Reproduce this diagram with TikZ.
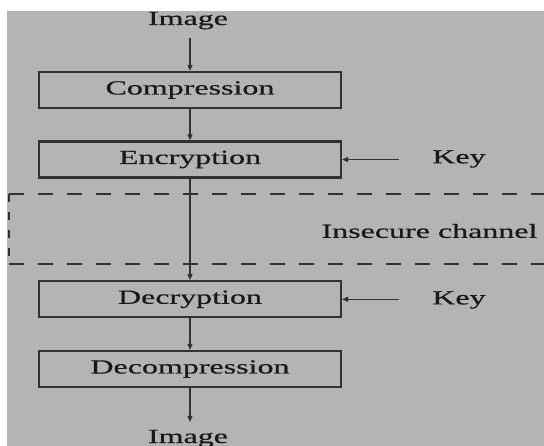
\documentclass[tikz,border=0pt]{standalone}
\usepackage{fontspec}
\setmainfont{Liberation Serif}
\newfontfamily\heavyserif{Liberation Serif}[FakeBold=0.5]
\usetikzlibrary{arrows.meta}
\definecolor{bgray}{RGB}{180,180,180}
\definecolor{lineg}{RGB}{50,50,50}
\definecolor{txtg}{RGB}{25,25,25}
\newcommand{\wtxt}[1]{\scalebox{1.6}[1]{#1}}
\tikzset{
  blockbox/.style={draw=lineg, line width=2.2pt, minimum width=302pt, minimum height=36pt, inner sep=0pt, text=txtg, font=\heavyserif\fontsize{20}{24}\selectfont},
  lbl/.style={inner sep=0pt, text=txtg, font=\heavyserif\fontsize{20}{24}\selectfont},
  flow/.style={draw=lineg, line width=1.4pt, -{Triangle[length=6pt,width=5pt]}},
  chan/.style={draw=lineg, line width=1.6pt, dash pattern=on 15pt off 14pt}
}
\begin{document}
\begin{tikzpicture}[x=1pt,y=-1pt]
\useasboundingbox (0,0) rectangle (544,446);
\fill[white] (0,0) rectangle (544,446);
\fill[bgray] (7,11.5) rectangle (544,446);
% channel
\draw[chan] (9,194) -- (560,194);
\draw[chan] (9,264) -- (560,264);
\draw[draw=lineg, line width=1.6pt, dash pattern=on 8pt off 10pt] (9,194) -- (9,264);
% nodes
\node[lbl, anchor=base] (imin) at (188,25) {\wtxt{Image}};
\coordinate (inS) at (190,38);
\node[blockbox] (comp) at (190,90) {\wtxt{Compression}};
\node[blockbox] (enc) at (190,159.5) {\wtxt{Encryption}};
\node[blockbox] (dec) at (190,299.3) {\wtxt{Decryption}};
\node[blockbox] (decomp) at (190,369) {\wtxt{Decompression}};
\coordinate (outE) at (190,422);
\node[lbl, anchor=base] (imout) at (188,443) {\wtxt{Image}};
\node[lbl] (key1) at (459,159) {\wtxt{Key}};
\node[lbl] (key2) at (459,300) {\wtxt{Key}};
\coordinate (k1s) at (399,159.5);
\coordinate (k2s) at (399,299.3);
\node[lbl] (chanl) at (429.5,231) {\wtxt{Insecure channel}};
% connectors
\draw[flow] (inS) -- (comp.north);
\draw[flow] (comp.south) -- (enc.north);
\draw[flow] (enc.south) -- (dec.north);
\draw[flow] (dec.south) -- (decomp.north);
\draw[flow] (decomp.south) -- (outE);
\draw[flow] (k1s) -- (enc.east);
\draw[flow] (k2s) -- (dec.east);
\end{tikzpicture}
\end{document}
